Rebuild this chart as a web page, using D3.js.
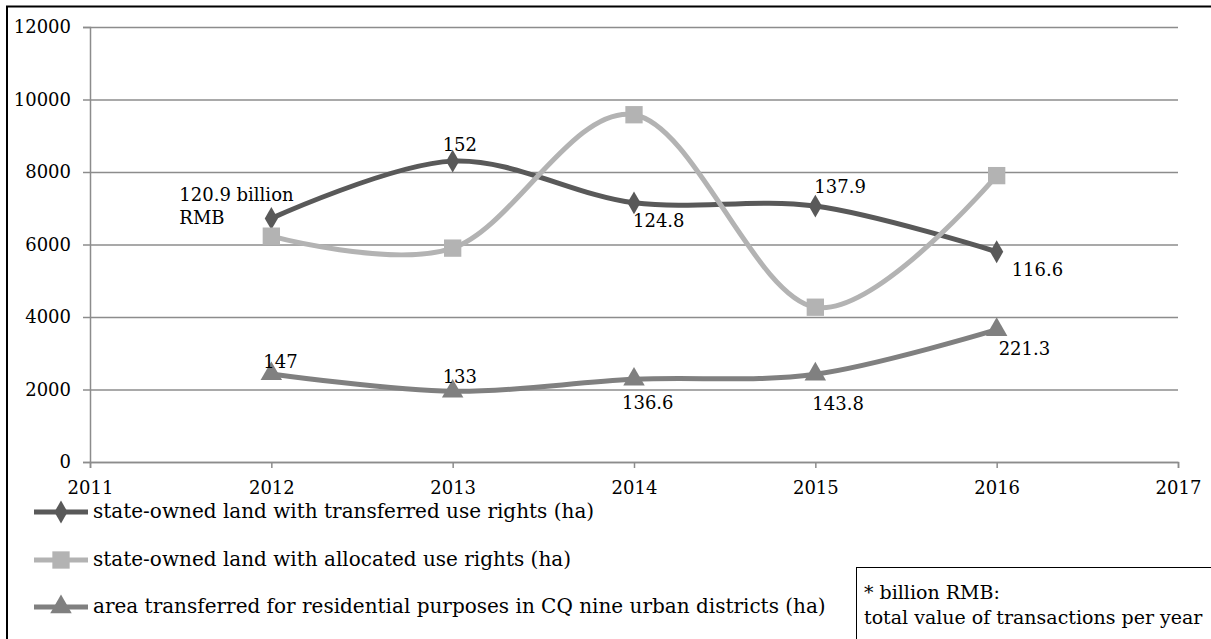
<!DOCTYPE html>
<html>
<head>
<meta charset="utf-8">
<script src="https://cdn.jsdelivr.net/npm/d3@7"></script>
<style>
  html, body { margin: 0; padding: 0; background: #fff; }
  svg { display: block; font-family: "DejaVu Serif", serif; }
</style>
</head>
<body>
<div id="chart"></div>
<script>
const years = [2012, 2013, 2014, 2015, 2016];
const xTicks = [2011, 2012, 2013, 2014, 2015, 2016, 2017];
const yTicks = [0, 2000, 4000, 6000, 8000, 10000, 12000];

const transferred = [6720, 8300, 7150, 7060, 5800];
const allocated = [6230, 5900, 9580, 4270, 7900];
const residential = [2430, 1950, 2280, 2420, 3650];

const transferredLabels = ["120.9 billion|RMB", "152", "124.8", "137.9", "116.6"];
const residentialLabels = ["147", "133", "136.6", "143.8", "221.3"];

const seriesNames = [
  "state-owned land with transferred use rights (ha)",
  "state-owned land with allocated use rights (ha)",
  "area transferred for residential purposes in CQ nine urban districts (ha)",
];

const width = 1211;
const height = 639;
const margin = { left: 90, right: 33, top: 27, bottom: 177 };
const numSize = 18;
const legendSize = 20;

const series = [
  { name: seriesNames[0], values: transferred, color: "#595959", marker: d3.symbolDiamond, size: 150 },
  { name: seriesNames[1], values: allocated, color: "#b3b3b3", marker: d3.symbolSquare, size: 300 },
  { name: seriesNames[2], values: residential, color: "#808080", marker: d3.symbolTriangle, size: 200 },
];

const svg = d3.select("#chart")
  .append("svg")
  .attr("width", width)
  .attr("height", height);

const x = d3.scaleLinear()
  .domain([2011, 2017])
  .range([margin.left, width - margin.right]);

const y = d3.scaleLinear()
  .domain([0, 12000])
  .range([height - margin.bottom, margin.top]);

// outer frame (runs off the right and bottom edge)
svg.append("rect")
  .attr("x", 7)
  .attr("y", 6.5)
  .attr("width", width + 20)
  .attr("height", height + 20)
  .attr("fill", "none")
  .attr("stroke", "#000")
  .attr("stroke-width", 2);

// grid + y axis
svg.append("g")
  .attr("transform", `translate(${margin.left},0)`)
  .call(d3.axisLeft(y).tickValues(yTicks).tickSize(7).tickPadding(12).tickFormat(d3.format("d")))
  .call((g) => g.select(".domain").attr("stroke", "#8c8c8c").attr("stroke-width", 1.5))
  .call((g) => g.selectAll(".tick line").attr("stroke", "#8c8c8c").attr("stroke-width", 1.5))
  .call((g) => g.selectAll(".tick").append("line")
    .attr("x2", width - margin.right - margin.left)
    .attr("stroke", "#8c8c8c")
    .attr("stroke-width", 1.5))
  .call((g) => g.selectAll("text")
    .attr("fill", "#000")
    .style("font-family", "DejaVu Serif")
    .style("font-size", `${numSize}px`));

// x axis
svg.append("g")
  .attr("transform", `translate(0,${height - margin.bottom})`)
  .call(d3.axisBottom(x).tickValues(xTicks).tickSize(6).tickPadding(13).tickFormat(d3.format("d")))
  .call((g) => g.select(".domain").attr("stroke", "#8c8c8c").attr("stroke-width", 1.5))
  .call((g) => g.selectAll(".tick line").attr("stroke", "#8c8c8c").attr("stroke-width", 1.5))
  .call((g) => g.selectAll("text")
    .attr("fill", "#000")
    .style("font-family", "DejaVu Serif")
    .style("font-size", `${numSize}px`));

const line = d3.line()
  .x((d, i) => x(years[i]))
  .y((d) => y(d))
  .curve(d3.curveCatmullRom.alpha(0));

// draw order: residential, transferred, allocated
const drawOrder = [series[2], series[0], series[1]];

drawOrder.forEach((s) => {
  svg.append("path")
    .datum(s.values)
    .attr("fill", "none")
    .attr("stroke", s.color)
    .attr("stroke-width", 5)
    .attr("stroke-linejoin", "round")
    .attr("d", line);

  svg.append("g")
    .selectAll("path")
    .data(s.values)
    .join("path")
    .attr("transform", (d, i) => `translate(${x(years[i])},${y(d)})`)
    .attr("d", d3.symbol(s.marker, s.size))
    .attr("fill", s.color);
});

// data labels: offsets relative to the marker
const transferredOffsets = [[-92, -17], [-10, -10], [-1, 24], [-1, -13], [15, 24]];
const residentialOffsets = [[-8, -6], [-10, -8], [-12, 30], [-3, 36], [2, 25]];

function addLabels(values, labels, offsets) {
  svg.append("g")
    .selectAll("text")
    .data(values)
    .join("text")
    .attr("x", (d, i) => x(years[i]) + offsets[i][0])
    .attr("y", (d, i) => y(d) + offsets[i][1])
    .style("font-size", `${numSize}px`)
    .attr("fill", "#000")
    .each(function (d, i) {
      const parts = labels[i].split("|");
      const t = d3.select(this);
      parts.forEach((p, k) => {
        t.append("tspan")
          .attr("x", x(years[i]) + offsets[i][0])
          .attr("dy", k === 0 ? 0 : 23)
          .text(p);
      });
    });
}

addLabels(transferred, transferredLabels, transferredOffsets);
addLabels(residential, residentialLabels, residentialOffsets);

// legend
const legendRows = [512, 560, 607];
const legend = svg.append("g");
series.forEach((s, i) => {
  const row = legend.append("g").attr("transform", `translate(0,${legendRows[i]})`);
  row.append("line")
    .attr("x1", 34)
    .attr("x2", 88)
    .attr("stroke", s.color)
    .attr("stroke-width", 5);
  row.append("path")
    .attr("transform", "translate(61,0)")
    .attr("d", d3.symbol(s.marker, s.size))
    .attr("fill", s.color);
  row.append("text")
    .attr("x", 93)
    .attr("y", 6)
    .style("font-size", `${legendSize}px`)
    .attr("fill", "#000")
    .text(s.name);
});

// note box
svg.append("rect")
  .attr("x", 856.5)
  .attr("y", 567.5)
  .attr("width", 400)
  .attr("height", 100)
  .attr("fill", "#fff")
  .attr("stroke", "#000")
  .attr("stroke-width", 1);

const note = svg.append("text")
  .style("font-size", "19px")
  .attr("fill", "#000");
note.append("tspan").attr("x", 864).attr("y", 599).text("* billion RMB:");
note.append("tspan").attr("x", 864).attr("y", 624).text("total value of transactions per year");
</script>
</body>
</html>
